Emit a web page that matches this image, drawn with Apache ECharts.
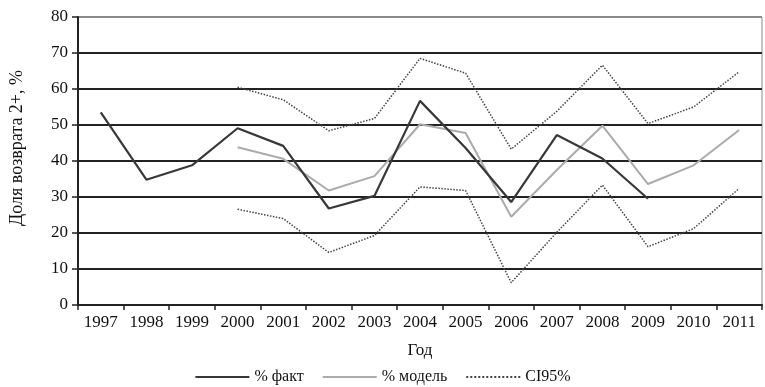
<!DOCTYPE html>
<html>
<head>
<meta charset="utf-8">
<script src="https://cdn.jsdelivr.net/npm/echarts@6/dist/echarts.min.js"></script>
<style>
  html, body { margin: 0; padding: 0; background: #fff; }
  #chart { width: 765px; height: 387px; }
</style>
</head>
<body>
<div id="chart"></div>
<script>
// Years on the horizontal axis
const years = ['1997','1998','1999','2000','2001','2002','2003','2004','2005','2006','2007','2008','2009','2010','2011'];

// Observed share, %
const factValues = [53.5, 34.8, 38.8, 49.1, 44.2, 26.8, 30.3, 56.7, 43.6, 28.6, 47.2, 40.7, 29.5, null, null];

// Model estimate, %
const modelValues = [null, null, null, 43.8, 40.6, 31.8, 35.8, 50.2, 47.8, 24.5, 37.5, 49.8, 33.6, 38.8, 48.6];

// 95% confidence band, upper and lower bounds
const ciUpper = [null, null, null, 60.5, 57.0, 48.4, 51.8, 68.5, 64.4, 43.3, 53.8, 66.6, 50.4, 55.0, 64.8];
const ciLower = [null, null, null, 26.6, 24.0, 14.6, 19.3, 32.8, 31.8, 6.2, 20.2, 33.3, 16.2, 21.2, 32.4];

// Value axis range
const yMin = 0, yMax = 80, yStep = 10;

const serif = '"Liberation Serif", "Times New Roman", serif';
const ink = '#111';
const chart = echarts.init(document.getElementById('chart'), null, { renderer: 'canvas' });

chart.setOption({
  backgroundColor: '#ffffff',
  animation: false,
  textStyle: { fontFamily: serif, color: ink },
  grid: {
    left: 78, right: 3, top: 17, bottom: 82,
    show: true, borderColor: '#8a8a8a', borderWidth: 1, backgroundColor: 'transparent'
  },
  legend: {
    bottom: -3,
    left: 'center',
    itemWidth: 54,
    itemHeight: 10,
    itemGap: 18,
    itemStyle: { opacity: 0 },
    textStyle: { fontFamily: serif, fontSize: 16, color: ink },
    data: ['% факт', '% модель', 'CI95%']
  },
  graphic: [{
    type: 'text',
    x: 17, y: 148,
    rotation: Math.PI / 2,
    style: {
      text: 'Доля возврата 2+, %',
      font: '18px ' + serif,
      fill: ink,
      align: 'center',
      verticalAlign: 'middle'
    }
  }],
  xAxis: {
    type: 'category',
    data: years,
    boundaryGap: true,
    name: 'Год',
    nameLocation: 'middle',
    nameGap: 37,
    nameTextStyle: { fontFamily: serif, fontSize: 17, color: ink },
    axisLine: { lineStyle: { color: '#222', width: 2 } },
    axisTick: { show: true, length: 5, lineStyle: { color: '#222', width: 1.5 } },
    axisLabel: { fontFamily: serif, fontSize: 17, color: ink, margin: 9 },
    splitLine: { show: false }
  },
  yAxis: {
    type: 'value',
    min: yMin, max: yMax, interval: yStep,
    axisLine: { show: true, lineStyle: { color: '#222', width: 2 } },
    axisTick: { show: true, length: 6, lineStyle: { color: '#222', width: 1.5 } },
    axisLabel: { fontFamily: serif, fontSize: 17, color: ink, margin: 10 },
    splitLine: {
      show: true,
      lineStyle: {
        color: ['#222', '#222', '#222', '#222', '#222', '#222', '#222', '#222', '#8a8a8a'],
        width: 2
      }
    }
  },
  series: [
    {
      name: '% факт', type: 'line', data: factValues,
      symbol: 'none', connectNulls: false,
      lineStyle: { color: '#383838', width: 2.2 },
      itemStyle: { color: '#383838' }, z: 5
    },
    {
      name: '% модель', type: 'line', data: modelValues,
      symbol: 'none',
      lineStyle: { color: '#ababab', width: 2 },
      itemStyle: { color: '#ababab' }, z: 4
    },
    {
      name: 'CI95%', type: 'line', data: ciUpper,
      symbol: 'none',
      lineStyle: { color: '#444', width: 1.5, type: 'dotted' },
      itemStyle: { color: '#444' }, z: 3
    },
    {
      name: 'CI95%', type: 'line', data: ciLower,
      symbol: 'none',
      lineStyle: { color: '#444', width: 1.5, type: 'dotted' },
      itemStyle: { color: '#444' }, z: 3
    }
  ]
});
</script>
</body>
</html>
